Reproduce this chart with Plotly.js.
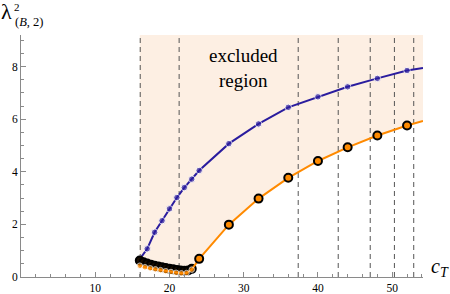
<!DOCTYPE html>
<html>
<head>
<meta charset="utf-8">
<script src="https://cdn.plot.ly/plotly-3.0.1.min.js"></script>
<style>html,body{margin:0;padding:0;background:#fff;}#chart{width:450px;height:294px;}</style>
</head>
<body>
<div id="chart"></div>
<script>
// ---- data ----
const xTickVals = [10, 20, 30, 40, 50];
const xTickText = ["10", "20", "30", "40", "50"];
const yTickVals = [0, 2, 4, 6, 8];
const yTickText = ["0", "2", "4", "6", "8"];

const xMax = 54.15;
const yMax = 9.2;

// upper (blue) series
const blueX = [16, 17, 18, 19, 20, 21, 22, 23, 24, 28, 32, 36, 40, 44, 48, 52];
const blueY = [0.68, 1.07, 1.70, 2.14, 2.59, 3.02, 3.40, 3.72, 4.05, 5.07, 5.82, 6.45, 6.85, 7.23, 7.55, 7.85];
const blueEdge = [xMax, 7.95];

// lower (orange) series
const orangeX = [16, 16.7, 17.4, 18.1, 18.8, 19.5, 20.2, 20.9, 21.6, 22.3, 23.0, 24, 28, 32, 36, 40, 44, 48, 52];
const orangeY = [0.43, 0.37, 0.33, 0.29, 0.26, 0.22, 0.19, 0.16, 0.14, 0.15, 0.28, 0.69, 1.99, 2.98, 3.77, 4.41, 4.93, 5.38, 5.76];
const orangeEdge = [xMax, 5.93];

// outlined circle points (dense cluster below c_T = 24, sparse above)
const circX = [16, 16.5, 17, 17.5, 18, 18.5, 19, 19.5, 20, 20.5, 21, 21.5, 22, 22.5, 23, 24, 28, 32, 36, 40, 44, 48, 52];
const circY = [0.63, 0.56, 0.51, 0.47, 0.43, 0.40, 0.37, 0.34, 0.31, 0.29, 0.27, 0.25, 0.24, 0.25, 0.31, 0.69, 1.99, 2.98, 3.77, 4.41, 4.93, 5.38, 5.76];

// dashed vertical lines
const dashX = [16.06, 21.3, 37.34, 42.73, 47.04, 50.3, 52.9];

// ---- styles ----
const blueC = '#2a1c9e';
const orangeC = '#ff8a00';
const shadeC = '#fdefe3';
const axisC = '#8a8a8a';
const serif = "'Liberation Serif', 'Times New Roman', serif";
const denseLimit = 23.5;

const traces = [];

// shaded excluded region: above the orange curve
const shX = orangeX.concat([orangeEdge[0], orangeEdge[0], orangeX[0]]);
const shY = orangeY.concat([orangeEdge[1], yMax, yMax]);
traces.push({x: shX, y: shY, mode: 'lines', fill: 'toself', fillcolor: shadeC,
  line: {width: 0, color: shadeC}, hoverinfo: 'skip', showlegend: false});

// dashed lines
dashX.forEach(d => traces.push({x: [d, d], y: [0, yMax], mode: 'lines',
  line: {color: '#555', width: 1, dash: '5px,4px'}, hoverinfo: 'skip', showlegend: false, cliponaxis: false}));

// blue
traces.push({x: blueX.concat([blueEdge[0]]), y: blueY.concat([blueEdge[1]]), mode: 'lines+markers',
  line: {color: blueC, width: 2}, marker: {color: blueC, size: blueX.map(() => 6.5).concat([0])},
  showlegend: false, cliponaxis: false});

// dense circles (drawn under the orange curve)
const dIdx = circX.map((v, i) => i).filter(i => circX[i] < denseLimit);
const sIdx = circX.map((v, i) => i).filter(i => circX[i] >= denseLimit);
traces.push({x: dIdx.map(i => circX[i]), y: dIdx.map(i => circY[i]), mode: 'markers',
  marker: {color: '#1a0d00', size: 8, line: {color: '#000', width: 2}},
  showlegend: false, cliponaxis: false});

// orange
traces.push({x: orangeX.concat([orangeEdge[0]]), y: orangeY.concat([orangeEdge[1]]), mode: 'lines+markers',
  line: {color: orangeC, width: 2}, marker: {color: orangeC, size: orangeX.map(() => 5.5).concat([0])},
  showlegend: false, cliponaxis: false});

// sparse circles (on top)
traces.push({x: sIdx.map(i => circX[i]), y: sIdx.map(i => circY[i]), mode: 'markers',
  marker: {color: orangeC, size: 8, line: {color: '#000', width: 2}},
  showlegend: false, cliponaxis: false});

const tickFont = {family: serif, size: 11.5, color: '#000'};

const layout = {
  width: 450, height: 294,
  margin: {l: 21, r: 27, t: 35, b: 17, pad: 0},
  paper_bgcolor: '#fff', plot_bgcolor: '#fff',
  showlegend: false,
  xaxis: {range: [0, xMax], tickmode: 'array', tickvals: xTickVals, ticktext: xTickText,
    ticks: 'inside', ticklen: 5, tickwidth: 1, tickcolor: axisC,
    minor: {tickmode: 'linear', tick0: 0, dtick: 2, ticks: 'inside', ticklen: 3, tickcolor: axisC, tickwidth: 1, showgrid: false},
    showline: true, linecolor: axisC, linewidth: 1, showgrid: false, zeroline: false,
    tickfont: tickFont, automargin: false, fixedrange: true},
  yaxis: {range: [0, yMax], tickmode: 'array', tickvals: yTickVals, ticktext: yTickText,
    ticks: 'inside', ticklen: 5, tickwidth: 1, tickcolor: axisC,
    minor: {tickmode: 'linear', tick0: 0, dtick: 0.5, ticks: 'inside', ticklen: 3, tickcolor: axisC, tickwidth: 1, showgrid: false},
    showline: true, linecolor: axisC, linewidth: 1, showgrid: false, zeroline: false,
    tickfont: tickFont, automargin: false, fixedrange: true},
  annotations: [
    {text: 'excluded<br>region', xref: 'x', yref: 'y', x: 30, y: 7.95, showarrow: false,
      xanchor: 'center', yanchor: 'middle', font: {family: serif, size: 19, color: '#000'}},
    {text: 'λ', xref: 'paper', yref: 'paper', x: 0, y: 1, xshift: -14.5, yshift: 24,
      xanchor: 'center', yanchor: 'middle', showarrow: false, font: {family: serif, size: 22, color: '#000'}},
    {text: '2', xref: 'paper', yref: 'paper', x: 0, y: 1, xshift: -4.5, yshift: 28.5,
      xanchor: 'center', yanchor: 'middle', showarrow: false, font: {family: serif, size: 11, color: '#000'}},
    {text: '(<i>B</i>, 2)', xref: 'paper', yref: 'paper', x: 0, y: 1, xshift: 8, yshift: 13.5,
      xanchor: 'center', yanchor: 'middle', showarrow: false, font: {family: serif, size: 12.5, color: '#000'}},
    {text: '<i>c</i><sub><i>T</i></sub>', xref: 'paper', yref: 'paper', x: 1, y: 0, xshift: 6, yshift: 10,
      xanchor: 'left', yanchor: 'middle', showarrow: false, font: {family: serif, size: 20, color: '#000'}}
  ]
};

Plotly.newPlot('chart', traces, layout, {staticPlot: true, displayModeBar: false});
</script>
</body>
</html>
